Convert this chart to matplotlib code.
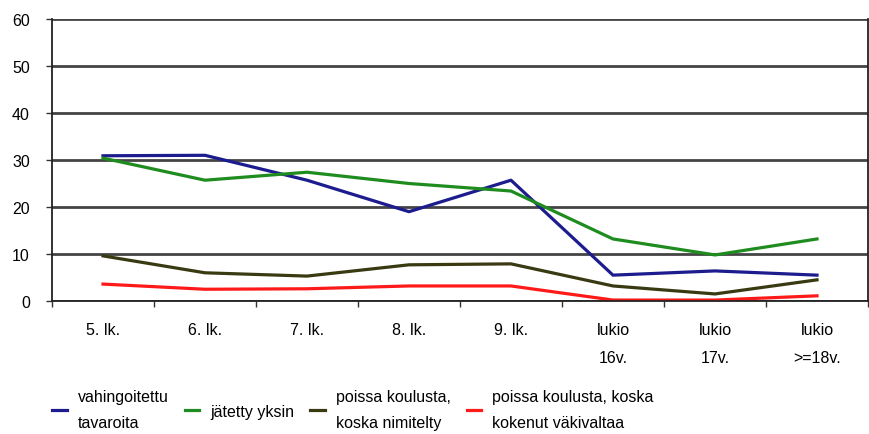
import numpy as np
import matplotlib.pyplot as plt

categories = ["5. lk.", "6. lk.", "7. lk.", "8. lk.", "9. lk.",
              "lukio\n16v.", "lukio\n17v.", "lukio\n>=18v."]
vahingoitettu = [30.9, 31.0, 25.7, 19.0, 25.7, 5.5, 6.4, 5.5]
jatetty = [30.4, 25.7, 27.4, 25.0, 23.4, 13.2, 9.8, 13.2]
nimitelty = [9.6, 6.0, 5.3, 7.7, 7.9, 3.2, 1.5, 4.5]
vakivalta = [3.6, 2.5, 2.6, 3.2, 3.2, 0.2, 0.2, 1.1]
labels = ["vahingoitettu\ntavaroita", "jätetty yksin",
          "poissa koulusta,\nkoska nimitelty",
          "poissa koulusta, koska\nkokenut väkivaltaa"]
colors = ["#1c1c8e", "#1f8c1f", "#3a3a12", "#ff1a1a"]

plt.rcParams['font.family'] = ['Liberation Sans', 'DejaVu Sans']
plt.rcParams['font.size'] = 11.5

fig = plt.figure(figsize=(8.69, 4.35), dpi=100)
ax = fig.add_axes([52 / 869, 1 - 302 / 435, 816 / 869, 282 / 435])

x = np.arange(len(categories))
for vals, c, lab in zip([vahingoitettu, jatetty, nimitelty, vakivalta], colors, labels):
    ax.plot(x, vals, color=c, lw=2.3, label=lab)

ax.set_xlim(-0.5, len(categories) - 0.5)
ax.set_ylim(0, 60)
ax.set_yticks(range(0, 61, 10))
ax.set_xticks(x)
ax.set_xticklabels(categories, linespacing=2.1, va='top')
ax.set_xticks(np.arange(-0.5, len(categories), 1), minor=True)
ax.tick_params(axis='x', which='major', length=0, pad=15)
ax.tick_params(axis='x', which='minor', length=4, width=1, color='#333333')
ax.tick_params(axis='y', length=4, width=1, pad=12, color='#333333')

ax.grid(axis='y', color='#444444', lw=2.0)
ax.set_axisbelow(True)
ax.spines['top'].set_visible(False)
for s in ['left', 'bottom', 'right']:
    ax.spines[s].set_color('#222222')
    ax.spines[s].set_linewidth(1.3)

leg = fig.legend(loc='upper left', bbox_to_anchor=(38 / 869, 1 - 376 / 435), ncol=4,
                 frameon=False, handlelength=0.9, handletextpad=0.7, columnspacing=1.0)
for t in leg.get_texts():
    t.set_linespacing(1.9)

fig.savefig("out.png", dpi=100)
